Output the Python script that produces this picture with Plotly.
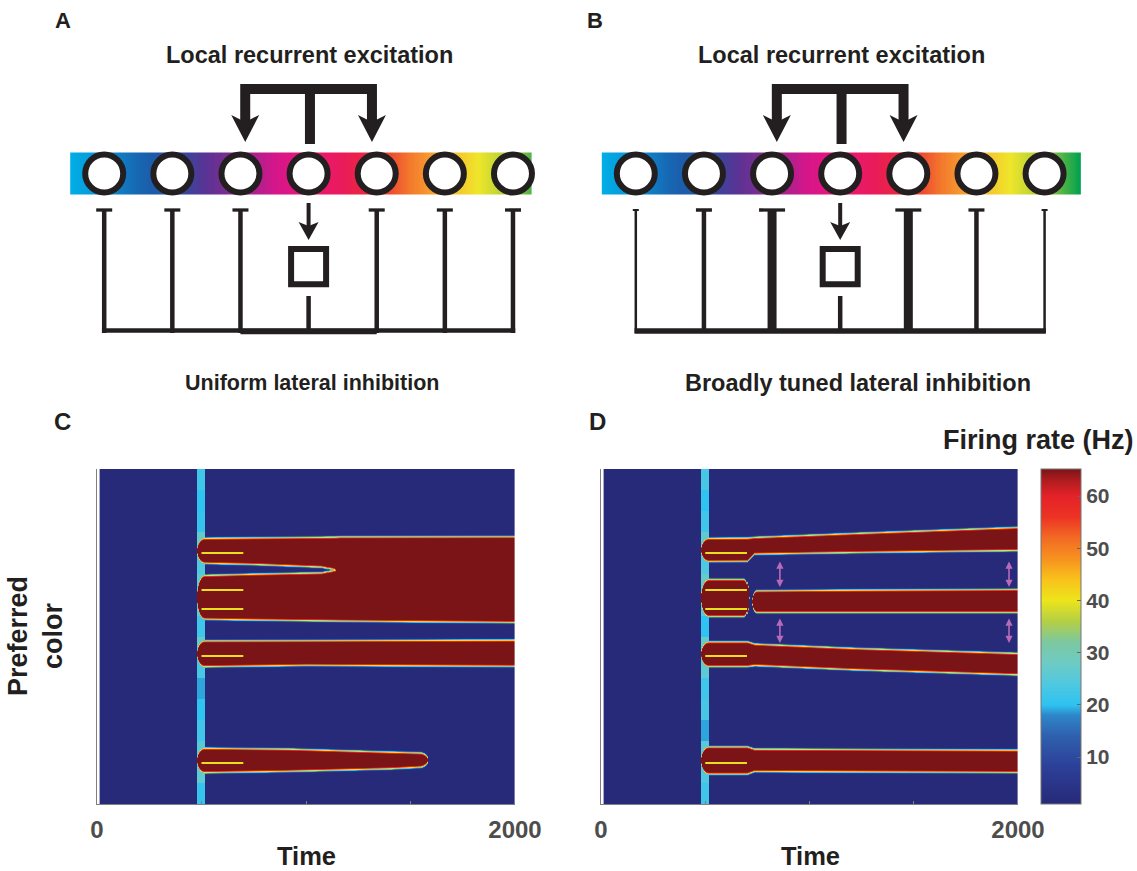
import numpy as np
import plotly.graph_objects as go

W, H = 1137, 871
FONT = "Liberation Sans"
INK = "#231f20"
GRAY = "#4d4d4d"

# ---------------- A / B schematic data ----------------
neurons = [0, 1, 2, 3, 4, 5, 6]
center_neuron = 3
exc_source = 3.02
exc_targets = [2.07, 3.93]
inh_width_A = [4.5, 4.5, 4.5, 0, 4.5, 4.5, 4.5]
inh_width_B = [2.5, 4.5, 9.0, 0, 9.0, 4.5, 2.5]
inh_cap_A = [16, 16, 16, 0, 16, 16, 16]
inh_cap_B = [6, 16, 26, 0, 26, 16, 6]
bar_pos = [-0.49, 0.0, 0.5, 1.0, 1.5, 2.0, 2.5, 3.0, 3.5, 4.0, 4.5, 5.0, 5.5, 6.0, 6.53]
bar_colors = ["#00aee6", "#0c8fd2", "#1766b2", "#24509f", "#5a3394", "#8e2a8f",
              "#d4168a", "#ea1679", "#ea1b5a", "#ea2a35", "#f37a2c", "#f8b232",
              "#efe62a", "#a4c83c", "#00a14f"]

# ---------------- C / D data ----------------
time_ticks = [0, 500, 1000, 1500, 2000]
time_labels = ["0", "", "", "", "2000"]
cue_items = [251, 214, 195, 148, 41]        # preferred colour of the cued items
cue_t = [500, 700]
stim_t = [476, 517]
stim_C = [21, 26, 25, 22, 20, 19, 23, 27, 22, 27, 26, 24, 27, 21, 20, 22]
stim_D = [22, 24, 25, 19, 23, 22, 26, 27, 20, 25, 27, 24, 26, 22, 20, 23]

# bump outlines (time, lower edge, upper edge) -- panel C
c1_t = [478, 757, 1077, 1139, 1165, 2000]
c1_lo = [240.7, 239.3, 236.7, 234.0, 215.0, 215.0]
c1_hi = [265.7, 266.3, 266.8, 267.0, 267.3, 267.5]
c2_t = [478, 757, 1077, 1139, 1165, 2000]
c2_lo = [184.7, 183.8, 183.0, 182.8, 182.7, 181.3]
c2_hi = [228.5, 230.0, 231.3, 234.0, 240.0, 240.0]
c3_t = [478, 1000, 2000]
c3_lo = [137.0, 138.5, 137.5]
c3_hi = [163.3, 163.5, 164.0]
c4_t = [478, 920, 1400, 1584]
c4_lo = [31.0, 32.5, 35.0, 37.0]
c4_hi = [56.0, 55.0, 52.0, 51.0]
# panel D
d1_t = [478, 700, 735, 1220, 2000]
d1_lo = [242.3, 242.5, 249.7, 251.3, 253.3]
d1_hi = [265.7, 266.0, 266.7, 270.7, 276.7]
d2a_t = [478, 710]
d2a_lo = [187.3, 187.3]
d2a_hi = [224.7, 224.7]
d2b_t = [724, 1220, 2000]
d2b_lo = [191.3, 191.3, 191.3]
d2b_hi = [213.3, 214.0, 214.7]
d3_t = [478, 700, 737, 1220, 2000]
d3_lo = [137.3, 137.3, 138.3, 134.0, 129.0]
d3_hi = [162.3, 162.3, 160.0, 155.7, 150.7]
d4_t = [478, 700, 735, 2000]
d4_lo = [29.7, 29.7, 32.3, 31.3]
d4_hi = [57.3, 57.3, 55.0, 54.0]
# separation arrows in D
sep_t = [858, 1957]
sep_spans = [(217, 244), (161, 187)]

# colour map for firing rate
cmap_vals = [1, 8, 14, 18, 20, 24, 28, 32, 36, 40, 44, 48, 52, 56, 60, 63, 65.2]
cmap_cols = ["#272a78", "#2c3f98", "#2f60ae", "#2e86c9", "#2ec3f0", "#4fc8e0",
             "#6ecbc4", "#7cc8a0", "#b4cf45", "#ece51a", "#f9c21b", "#f6921f",
             "#f26a23", "#ec3324", "#e42228", "#b01c1f", "#7b1416"]
ZMIN, ZMAX = 1.0, 65.2

# ---------------- build rate maps ----------------
PX_PER_T = 417 / 2000
t_grid = np.arange(15, 2000, 5.0)
y_grid = np.arange(0.5, 335, 1.0)
TT, YY = np.meshgrid(t_grid, y_grid)


def bump(bt, blo, bhi, cap_l=8.0, cap_r=0.0):
    lo = np.interp(TT, bt, blo)
    hi = np.interp(TT, bt, bhi)
    c = (lo + hi) / 2
    hw = (hi - lo) / 2
    x = TT * PX_PER_T
    xs, xe = bt[0] * PX_PER_T, bt[-1] * PX_PER_T
    u = np.zeros_like(TT)
    if cap_l > 0:
        u = np.maximum(u, (xs + cap_l - x) / cap_l)
    if cap_r > 0:
        u = np.maximum(u, (x - (xe - cap_r)) / cap_r)
    f = np.sqrt(np.clip(1 - np.clip(u, 0, None) ** 2, 0, 1))
    d = hw * f - np.abs(YY - c)
    d = np.where((x >= xs) & (x <= xe), d, -10)
    s = np.clip((d + 2.2) / 4.4, 0, 1)
    s = s * s * (3 - 2 * s)
    return ZMIN + (ZMAX - ZMIN) * s


def stripe(vals):
    seg = np.minimum((YY / 335 * len(vals)).astype(int), len(vals) - 1)
    v = np.array(vals, dtype=float)[seg]
    return np.where((TT >= stim_t[0]) & (TT <= stim_t[1]), v, ZMIN)


ZC = np.maximum.reduce([
    stripe(stim_C),
    bump(c1_t, c1_lo, c1_hi),
    bump(c2_t, c2_lo, c2_hi),
    bump(c3_t, c3_lo, c3_hi),
    bump(c4_t, c4_lo, c4_hi, cap_r=9),
])
ZD = np.maximum.reduce([
    stripe(stim_D),
    bump(d1_t, d1_lo, d1_hi),
    bump(d2a_t, d2a_lo, d2a_hi, cap_r=5),
    bump(d2b_t, d2b_lo, d2b_hi, cap_l=5),
    bump(d3_t, d3_lo, d3_hi),
    bump(d4_t, d4_lo, d4_hi),
])
ZC = np.round(ZC, 1)
ZD = np.round(ZD, 1)

colorscale = [[(v - ZMIN) / (ZMAX - ZMIN), c] for v, c in zip(cmap_vals, cmap_cols)]
bar_scale = [[(p - bar_pos[0]) / (bar_pos[-1] - bar_pos[0]), c] for p, c in zip(bar_pos, bar_colors)]

fig = go.Figure()

# heatmaps
fig.add_trace(go.Heatmap(z=ZC, x=t_grid, y=y_grid, coloraxis="coloraxis",
                         xaxis="x", yaxis="y", hoverinfo="skip"))
fig.add_trace(go.Heatmap(z=ZD, x=t_grid, y=y_grid, coloraxis="coloraxis",
                         xaxis="x2", yaxis="y2", hoverinfo="skip"))

# cue item markers
for xa, ya in (("x", "y"), ("x2", "y2")):
    xs, ys = [], []
    for it in cue_items:
        xs += [cue_t[0], cue_t[1], None]
        ys += [it, it, None]
    fig.add_trace(go.Scatter(x=xs, y=ys, mode="lines", xaxis=xa, yaxis=ya,
                             line=dict(color="#e9df1e", width=2.2),
                             hoverinfo="skip", showlegend=False))

# colour bars of schematics
bar_x = np.linspace(bar_pos[0], bar_pos[-1], 401)
dxb = bar_x[1] - bar_x[0]
for xa, ya in (("x3", "y3"), ("x4", "y4")):
    fig.add_trace(go.Heatmap(z=[bar_x], x0=bar_x[0], dx=dxb, y0=173.5, dy=42,
                             colorscale=bar_scale, showscale=False,
                             xaxis=xa, yaxis=ya, hoverinfo="skip"))

# ---------------- schematic shapes ----------------
U = 1 / 68.13
shapes = []


def schematic(xa, ya, inh_w, inh_cap, bottom):
    ref = dict(xref=xa, yref=ya)
    l, r = exc_targets
    shapes.append(dict(type="path", path=f"M {l},124 L {l},89 L {r},89 L {r},124",
                       line=dict(color=INK, width=10), **ref))
    shapes.append(dict(type="line", x0=exc_source, x1=exc_source, y0=89, y1=144,
                       line=dict(color=INK, width=10), **ref))
    hw = 14 * U
    for xt in exc_targets:
        shapes.append(dict(type="path",
                           path=f"M {xt-hw},115 L {xt},142 L {xt+hw},115 L {xt},122 Z",
                           fillcolor=INK, line=dict(width=0), **ref))
    rx = 19 * U
    for n in neurons:
        shapes.append(dict(type="circle", x0=n - rx, x1=n + rx, y0=173.5 - 19, y1=173.5 + 19,
                           fillcolor="white", line=dict(color=INK, width=6), **ref))
    c = center_neuron
    shapes.append(dict(type="line", x0=c, x1=c, y0=203, y1=228,
                       line=dict(color=INK, width=4), **ref))
    ah = 10 * U
    shapes.append(dict(type="path", path=f"M {c-ah},222 L {c},240 L {c+ah},222 L {c},226 Z",
                       fillcolor=INK, line=dict(width=0), **ref))
    sq = 17.5 * U
    shapes.append(dict(type="rect", x0=c - sq, x1=c + sq, y0=249, y1=284.3,
                       line=dict(color=INK, width=6), fillcolor="rgba(0,0,0,0)", **ref))
    shapes.append(dict(type="line", x0=c, x1=c, y0=296, y1=333,
                       line=dict(color=INK, width=4.5), **ref))
    for n, w, cw in zip(neurons, inh_w, inh_cap):
        if w == 0:
            continue
        shapes.append(dict(type="line", x0=n, x1=n, y0=209, y1=333,
                           line=dict(color=INK, width=w), **ref))
        shapes.append(dict(type="line", x0=n - cw / 2 * U, x1=n + cw / 2 * U, y0=210, y1=210,
                           line=dict(color=INK, width=3.3 if w > 3 else 2), **ref))
    for (a, b, y, w) in bottom:
        shapes.append(dict(type="line", x0=a, x1=b, y0=y, y1=y,
                           line=dict(color=INK, width=w), **ref))


schematic("x3", "y3", inh_width_A, inh_cap_A,
          [(0 - 2.25 * U, 6 + 2.25 * U, 330.5, 4.5), (2, 4, 331.5, 5.3)])
schematic("x4", "y4", inh_width_B, inh_cap_B,
          [(0 - 1.25 * U, 6 + 1.25 * U, 331, 5.7)])

# ---------------- annotations ----------------
def P(x, y):
    return dict(x=x / W, y=1 - y / H, xref="paper", yref="paper")


def txt(s, x, y, size, color=INK, angle=0):
    return dict(text=s, showarrow=False, xanchor="center", yanchor="middle",
                textangle=angle, font=dict(family=FONT, size=size, color=color, weight="bold"),
                **P(x, y))


ann = [
    txt("A", 63, 21, 22), txt("B", 595, 21, 22),
    txt("C", 62, 421, 24), txt("D", 597, 421, 24),
    txt("Local recurrent excitation", 309.5, 55, 23.5),
    txt("Local recurrent excitation", 841.7, 55, 23.5),
    txt("Uniform lateral inhibition", 312, 383, 21.5),
    txt("Broadly tuned lateral inhibition", 858, 383, 23.5),
    txt("Preferred<br>color", 35, 636, 27, angle=-90),
    txt("Time", 306, 856, 25.5), txt("Time", 810, 856, 25.5),
    txt("Firing rate (Hz)", 1038, 440, 27),
]
for tx in sep_t:
    for (a, b) in sep_spans:
        ann.append(dict(x=tx, y=a, ax=tx, ay=b, xref="x2", yref="y2", axref="x2", ayref="y2",
                        text="", showarrow=True, arrowside="end+start", arrowhead=2,
                        startarrowhead=2, arrowsize=0.9, startarrowsize=0.9,
                        arrowwidth=1.6, arrowcolor="#b86ab8", standoff=0, startstandoff=0))

xdom_C = [97 / W, 515 / W]
xdom_D = [601 / W, 1018 / W]
ydom = [(H - 804) / H, (H - 469) / H]

xcommon = dict(range=[0, 2000], tickvals=time_ticks, ticktext=time_labels,
               ticks="inside", ticklen=3, tickcolor="#808080", showline=True,
               linecolor="#808080", linewidth=1, showgrid=False, zeroline=False,
               tickfont=dict(family=FONT, size=24, color=GRAY, weight="bold"),
               ticklabelstandoff=4, fixedrange=True, automargin=False)
ycommon = dict(range=[0, 335], showticklabels=False, ticks="", showline=True,
               linecolor="#808080", linewidth=1, showgrid=False, zeroline=False,
               fixedrange=True, automargin=False)
sch_x = dict(range=[(0 - 104.2) / 68.13, (568.5 - 104.2) / 68.13], visible=False, fixedrange=True)
sch_y = dict(range=[435.5, 0], visible=False, fixedrange=True)

fig.update_layout(
    width=W, height=H, margin=dict(l=0, r=0, t=0, b=0, autoexpand=False),
    paper_bgcolor="white", plot_bgcolor="white", showlegend=False,
    xaxis=dict(domain=xdom_C, anchor="y", **xcommon),
    yaxis=dict(domain=ydom, anchor="x", **ycommon),
    xaxis2=dict(domain=xdom_D, anchor="y2", **xcommon),
    yaxis2=dict(domain=ydom, anchor="x2", **ycommon),
    xaxis3=dict(domain=[0, 568.5 / W], anchor="y3", **sch_x),
    yaxis3=dict(domain=[0.5, 1], anchor="x3", **sch_y),
    xaxis4=dict(domain=[531.6 / W, (531.6 + 568.5) / W], anchor="y4", **sch_x),
    yaxis4=dict(domain=[0.5, 1], anchor="x4", **sch_y),
    coloraxis=dict(colorscale=colorscale, cmin=ZMIN, cmax=ZMAX,
                   colorbar=dict(x=1041 / W, xanchor="left", xpad=0, ypad=0,
                                 y=(ydom[0] + ydom[1]) / 2, yanchor="middle",
                                 thickness=40, thicknessmode="pixels",
                                 len=335, lenmode="pixels",
                                 tickvals=[10, 20, 30, 40, 50, 60],
                                 ticks="inside", ticklen=4, tickcolor="#666",
                                 outlinewidth=1, outlinecolor="#777",
                                 tickfont=dict(family=FONT, size=21, color=GRAY, weight="bold"))),
    shapes=shapes,
    annotations=ann,
)

fig.write_html("out.html")
